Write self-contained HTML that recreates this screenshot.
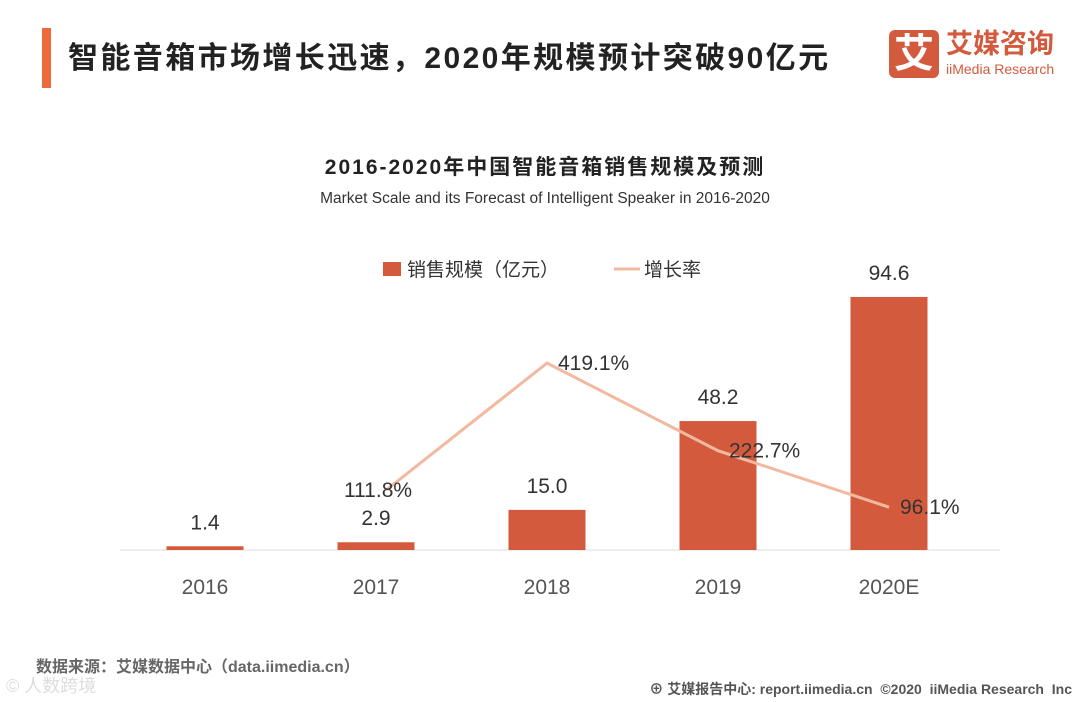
<!DOCTYPE html>
<html><head><meta charset="utf-8"><style>
body{margin:0;width:1080px;height:702px;background:#fff;overflow:hidden;position:relative;font-family:"Liberation Sans","Noto Sans CJK SC",sans-serif}
.abs{position:absolute;white-space:nowrap}
</style></head><body>
<div class="abs" style="left:42px;top:28px;width:9px;height:60px;background:#ee6a3c"></div>
<div class="abs" style="left:68px;top:33px;font-size:30px;letter-spacing:2.4px;font-weight:bold;color:#222">智能音箱市场增长迅速，2020年规模预计突破90亿元</div>
<div class="abs" style="left:889px;top:30px;width:50px;height:48px;background:#d35a3c;border-radius:6px;color:#fff;font-size:40px;font-weight:bold;text-align:center;line-height:48px">艾</div>
<div class="abs" style="left:946px;top:28px;font-size:27px;font-weight:bold;color:#d35a3c;line-height:32px">艾媒咨询</div>
<div class="abs" style="left:946px;top:61px;font-size:14px;color:#d35a3c">iiMedia Research</div>
<div class="abs" style="left:0;width:1090px;text-align:center;top:151px;font-size:21px;letter-spacing:2px;font-weight:bold;color:#222">2016-2020年中国智能音箱销售规模及预测</div>
<div class="abs" style="left:0;width:1090px;text-align:center;top:190px;font-size:15.5px;color:#333">Market Scale and its Forecast of Intelligent Speaker in 2016-2020</div>
<svg class="abs" style="left:0;top:0" width="1080" height="702">
<g id="g"></g>
</svg>
<div class="abs" style="left:36px;top:653px;font-size:16px;font-weight:bold;color:#666">数据来源：艾媒数据中心（data.iimedia.cn）</div>
<div class="abs" style="left:6px;top:672px;font-size:18px;color:#ddd">© 人数跨境</div>
<div class="abs" style="right:8px;top:679px;font-size:14px;font-weight:bold;color:#555">⊕ 艾媒报告中心: report.iimedia.cn &nbsp;©2020 &nbsp;iiMedia Research &nbsp;Inc</div>
<script>
const categories=["2016","2017","2018","2019","2020E"];
const sales=[1.4,2.9,15.0,48.2,94.6];
const salesLabels=["1.4","2.9","15.0","48.2","94.6"];
const rates=[null,111.8,419.1,222.7,96.1];
const rateLabels=["","111.8%","419.1%","222.7%","96.1%"];
const base=550;
const xPos=i=>205+i*171;
const yBar=v=>base-v*2.675;
const yRate=v=>base-v*0.446;
const g=document.getElementById('g');
const NS="http://www.w3.org/2000/svg";
function mk(t,a){const e=document.createElementNS(NS,t);for(const k in a)e.setAttribute(k,a[k]);g.appendChild(e);return e;}
let ax=mk('line',{x1:120,x2:1000,y1:base,y2:base,stroke:'#ddd','stroke-width':1});


let lr=mk('rect',{x:383,y:262,width:18,height:14,fill:'#d35a3c'});


let lt=mk('text',{x:407,y:276,'font-size':19,fill:'#333'});lt.textContent='销售规模（亿元）';


let ll=mk('line',{x1:614,x2:640,y1:269,y2:269,stroke:'#f3b9a0','stroke-width':3});


let lt2=mk('text',{x:644,y:276,'font-size':19,fill:'#333'});lt2.textContent='增长率';


categories.forEach((c,i)=>{
  const x=xPos(i),y=yBar(sales[i]);
  const r=mk('rect',{x:x-38.5,y:y,width:77,height:base-y,fill:'#d35a3c'});
  
  
  const t=mk('text',{x:x,y:y-17,'text-anchor':'middle','font-size':21,fill:'#333'});t.textContent=salesLabels[i];
  
  
  const xl=mk('text',{x:x,y:594,'text-anchor':'middle','font-size':21,fill:'#555'});xl.textContent=c;
  
  
});
const pts=[];rates.forEach((v,i)=>{if(v!==null)pts.push([xPos(i)+(i===1?10:0),yRate(v)-(i===1?10:0)]);});
const pl=mk('polyline',{points:pts.map(p=>p.join(',')).join(' '),fill:'none',stroke:'#f3b9a0','stroke-width':3});


rates.forEach((v,i)=>{
  if(v===null)return;
  const x=xPos(i),y=yRate(v);
  const first=i===1;
  const t=mk('text',{x:first?x+2:x+11,y:y+7-(first?10:0),'text-anchor':first?'middle':'start','font-size':21,fill:'#333'});
  t.textContent=rateLabels[i];
  
  
});
</script>
</body></html>
